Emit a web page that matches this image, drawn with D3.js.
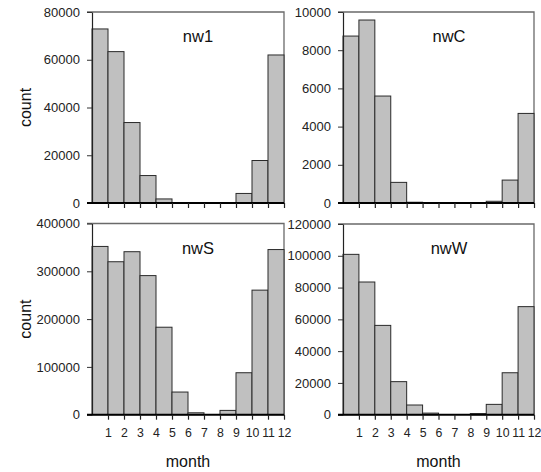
<!DOCTYPE html>
<html>
<head>
<meta charset="utf-8">
<script src="https://cdn.jsdelivr.net/npm/d3@7"></script>
<style>
  html, body { margin: 0; padding: 0; background: #fff; }
  svg { display: block; font-family: "Liberation Sans", Arial, sans-serif; }
</style>
</head>
<body>
<svg id="chart" width="541" height="472"></svg>
<script>
// Monthly counts per station group (bins 0-1 ... 11-12)
const months = [1, 2, 3, 4, 5, 6, 7, 8, 9, 10, 11, 12];
const nw1 = [72900, 63400, 33700, 11500, 1700, 0, 0, 0, 0, 4000, 17800, 62000];
const nwC = [8740, 9580, 5600, 1080, 40, 0, 0, 0, 0, 90, 1200, 4690];
const nwS = [352000, 320000, 341000, 291000, 183000, 47400, 4000, 0, 9000, 87800, 260600, 345500];
const nwW = [100900, 83500, 56200, 20800, 6100, 1000, 0, 0, 700, 6500, 26400, 68000];
const titles = ["nw1", "nwC", "nwS", "nwW"];
const yMax = [80000, 10000, 400000, 120000];
const yStep = [20000, 2000, 100000, 20000];

const series = [nw1, nwC, nwS, nwW];
const panels = [
  { x0: 92,  x1: 284, y0: 12,    y1: 203,   left: true,  bottom: false },
  { x0: 343, x1: 534, y0: 12,    y1: 203,   left: false, bottom: false },
  { x0: 92,  x1: 284, y0: 223.5, y1: 414.7, left: true,  bottom: true },
  { x0: 343, x1: 534, y0: 224,   y1: 414.7, left: false, bottom: true }
];

const svg = d3.select("#chart");

panels.forEach((p, i) => {
  const values = series[i];
  const x = d3.scaleLinear().domain([0, 12]).range([p.x0, p.x1]);
  const y = d3.scaleLinear().domain([0, yMax[i]]).range([p.y1, p.y0]);
  const g = svg.append("g");

  // frame: top and right border
  g.append("path")
    .attr("d", `M${p.x0 - 5},${p.y0}H${p.x1}V${p.y1}`)
    .attr("fill", "none")
    .attr("stroke", "#6a6a6a")
    .attr("stroke-width", 1.3);

  // bars
  g.selectAll("rect.bar")
    .data(values.map((v, k) => ({ m: months[k], v })).filter(d => d.v > 0))
    .join("rect")
    .attr("class", "bar")
    .attr("x", d => x(d.m - 1))
    .attr("width", d => x(d.m) - x(d.m - 1))
    .attr("y", d => y(d.v))
    .attr("height", d => y(0) - y(d.v))
    .attr("fill", "#c0c0c0")
    .attr("stroke", "#2a2a2a")
    .attr("stroke-width", 1);

  // y axis
  const yTicks = d3.range(0, yMax[i] + 1, yStep[i]);
  const yAxis = g.append("g")
    .attr("transform", `translate(${p.x0},0)`)
    .call(d3.axisLeft(y).tickValues(yTicks).tickFormat(d3.format("d"))
      .tickSize(5).tickSizeOuter(0).tickPadding(7));
  yAxis.select(".domain").attr("stroke", "#222").attr("stroke-width", 1.2);
  yAxis.selectAll(".tick line").attr("stroke", "#333");
  yAxis.selectAll("text").attr("font-size", 13).attr("fill", "#222")
    .attr("font-family", "Liberation Sans, Arial, sans-serif");

  // x axis
  const xAxis = g.append("g")
    .attr("transform", `translate(0,${p.y1})`)
    .call(d3.axisBottom(x).tickValues(months)
      .tickFormat(p.bottom ? d3.format("d") : () => "")
      .tickSize(5).tickSizeOuter(0).tickPadding(9));
  xAxis.select(".domain")
    .attr("d", `M${p.x0 - 5},0H${p.x1}`)
    .attr("stroke", "#000").attr("stroke-width", 2);
  xAxis.selectAll(".tick line").attr("stroke", "#222").attr("stroke-width", 1.2);
  xAxis.selectAll("text").attr("font-size", 12.3).attr("fill", "#222")
    .attr("font-family", "Liberation Sans, Arial, sans-serif");

  // panel title
  g.append("text")
    .attr("x", p.x0 + 106)
    .attr("y", p.y0 + 30)
    .attr("text-anchor", "middle")
    .attr("font-size", 16.5)
    .attr("fill", "#111")
    .text(titles[i]);

  if (p.left) {
    g.append("text")
      .attr("transform", `translate(31,${(p.y0 + p.y1) / 2}) rotate(-90)`)
      .attr("text-anchor", "middle")
      .attr("font-size", 16)
      .attr("fill", "#111")
      .text("count");
  }
  if (p.bottom) {
    g.append("text")
      .attr("x", (p.x0 + p.x1) / 2)
      .attr("y", 467)
      .attr("text-anchor", "middle")
      .attr("font-size", 16)
      .attr("fill", "#111")
      .text("month");
  }
});
</script>
</body>
</html>
